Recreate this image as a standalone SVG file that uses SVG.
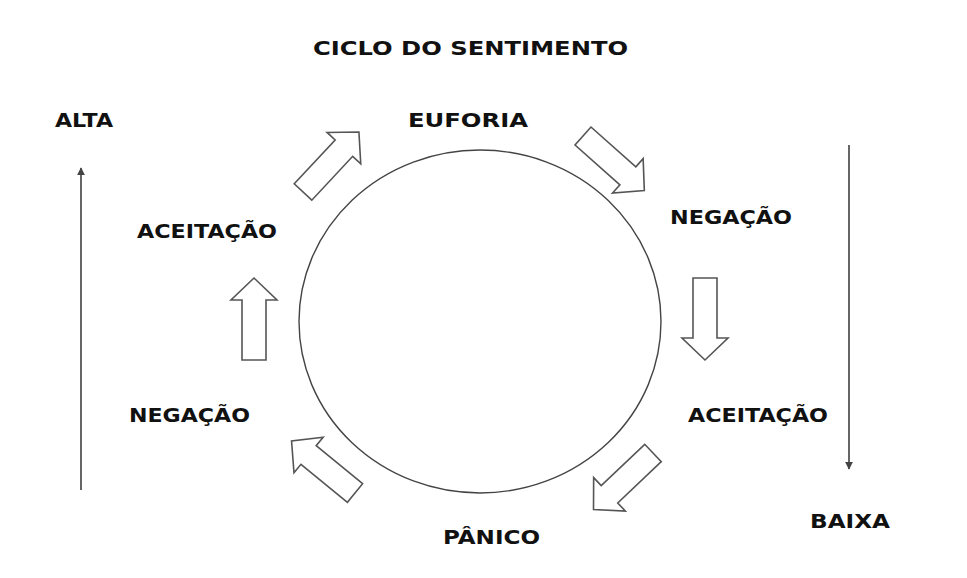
<svg xmlns="http://www.w3.org/2000/svg" width="967" height="578" viewBox="0 0 967 578">
<style>
text{font-family:"DejaVu Sans","Liberation Sans",sans-serif;font-weight:bold;font-size:20px;fill:#111}
.blk{fill:#fff;stroke:#555;stroke-width:1.6;stroke-linejoin:miter}
.axis{stroke:#666;stroke-width:2;fill:none}
.ring{fill:none;stroke:#444;stroke-width:1.4}
</style>
<defs>
<marker id="tip" viewBox="0 0 10 10" refX="9" refY="5" markerWidth="4" markerHeight="4" orient="auto" markerUnits="strokeWidth">
<path d="M0,0 L10,5 L0,10 z" fill="#444"/>
</marker>
<polygon id="blockArrow" class="blk" points="0,-12 60,-12 60,-23 82,0 60,23 60,12 0,12"/>
</defs>
<rect width="967" height="578" fill="#fff"/>
<text id="title" x="313" y="55" textLength="315" lengthAdjust="spacingAndGlyphs">CICLO DO SENTIMENTO</text>
<g id="ciclo">
<ellipse class="ring" cx="480" cy="321.5" rx="181" ry="171.5"/>
</g>
<g id="alta"><text x="55" y="127" textLength="58" lengthAdjust="spacingAndGlyphs">ALTA</text></g>
<g id="baixa"><text x="810" y="528" textLength="80" lengthAdjust="spacingAndGlyphs">BAIXA</text></g>
<g id="euforia"><text x="408" y="127" textLength="120" lengthAdjust="spacingAndGlyphs">EUFORIA</text></g>
<g id="negacao-dir"><text x="670" y="224" textLength="122" lengthAdjust="spacingAndGlyphs">NEGAÇÃO</text></g>
<g id="aceitacao-dir"><text x="688" y="422" textLength="140" lengthAdjust="spacingAndGlyphs">ACEITAÇÃO</text></g>
<g id="panico"><text x="443" y="544" textLength="97" lengthAdjust="spacingAndGlyphs">PÂNICO</text></g>
<g id="negacao-esq"><text x="129" y="422" textLength="121" lengthAdjust="spacingAndGlyphs">NEGAÇÃO</text></g>
<g id="aceitacao-esq"><text x="137" y="238" textLength="140" lengthAdjust="spacingAndGlyphs">ACEITAÇÃO</text></g>
<g id="connectors">
<line class="axis" x1="81" y1="490" x2="81" y2="168" marker-end="url(#tip)"/>
<line class="axis" x1="849" y1="145" x2="849" y2="469" marker-end="url(#tip)"/>
<use href="#blockArrow" transform="translate(303,192) rotate(-47)"/>
<use href="#blockArrow" transform="translate(583,136) rotate(41.6)"/>
<use href="#blockArrow" transform="translate(705,278) rotate(90)"/>
<use href="#blockArrow" transform="translate(653,453) rotate(136.5)"/>
<use href="#blockArrow" transform="translate(355,493) rotate(-140.7)"/>
<use href="#blockArrow" transform="translate(254,360) rotate(-90)"/>
</g>
</svg>
